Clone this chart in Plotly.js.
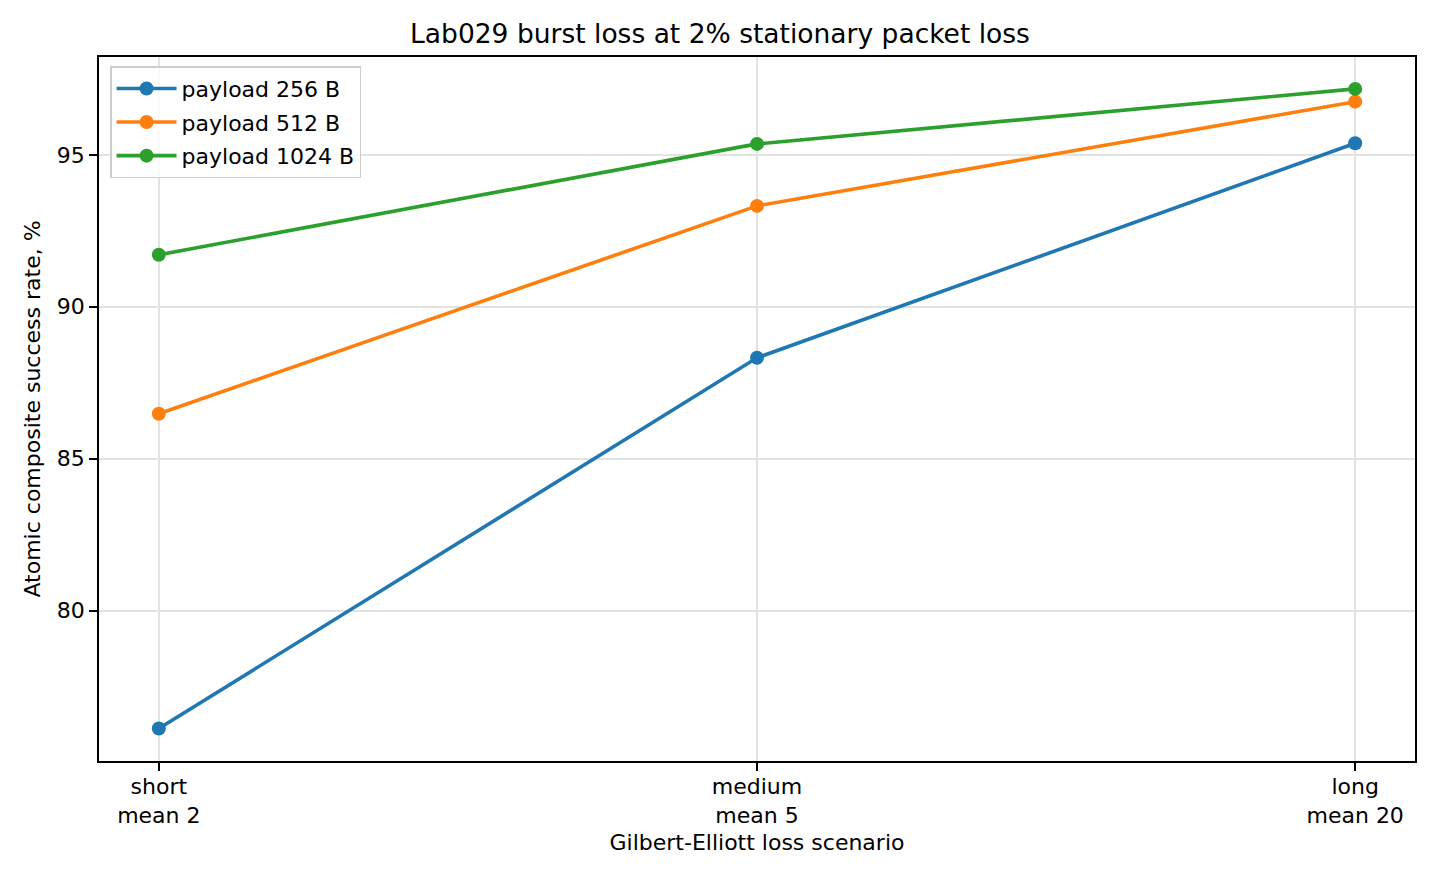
<!DOCTYPE html>
<html>
<head>
<meta charset="utf-8">
<script src="https://cdn.plot.ly/plotly-3.0.1.min.js"></script>
<style>
  html, body { margin: 0; padding: 0; background: #fff; }
  #chart { width: 1440px; height: 880px; }
</style>
</head>
<body>
<div id="chart"></div>
<script>
const SCENARIOS = ['short<br>mean 2', 'medium<br>mean 5', 'long<br>mean 20']
const SERIES_NAMES = ['payload 256 B', 'payload 512 B', 'payload 1024 B']
const SERIES_COLORS = ['#1f77b4', '#ff7f0e', '#2ca02c']
const payload256 = [76.12, 88.32, 95.38]
const payload512 = [86.48, 93.32, 96.75]
const payload1024 = [91.71, 95.36, 97.17]
const Y_TICKS = [80, 85, 90, 95]

const FONT = 'DejaVu Sans, sans-serif'

let data = [payload256, payload512, payload1024].map(function (values, i) {
  return {
    x: SCENARIOS,
    y: values,
    name: SERIES_NAMES[i],
    legendgroup: 'g' + i,
    type: 'scatter',
    mode: 'lines+markers',
    line: { color: SERIES_COLORS[i], width: 3.6 },
    marker: { color: SERIES_COLORS[i], size: 14 }
  }
})

let axisCommon = {
  showline: true,
  mirror: true,
  linecolor: '#000',
  linewidth: 1.8,
  ticks: 'outside',
  ticklen: 8,
  tickwidth: 1.8,
  tickcolor: '#000',
  showgrid: true,
  gridcolor: '#e3e3e3',
  gridwidth: 1.6,
  zeroline: false,
  tickfont: { family: FONT, size: 22, color: '#000' }
}

let layout = {
  width: 1440,
  height: 880,
  paper_bgcolor: '#fff',
  plot_bgcolor: '#fff',
  font: { family: FONT, color: '#000' },
  title: {
    text: 'Lab029 burst loss at 2% stationary packet loss',
    font: { family: FONT, size: 26.5, color: '#000' },
    x: 0.5,
    xanchor: 'center',
    y: 0.962,
    yanchor: 'middle'
  },
  margin: { l: 99, r: 25, t: 57, b: 119 },
  showlegend: true,
  legend: {
    x: 0.0084,
    y: 0.987,
    xanchor: 'left',
    yanchor: 'top',
    bgcolor: 'rgba(255,255,255,0.8)',
    bordercolor: '#cccccc',
    borderwidth: 1.5,
    font: { family: FONT, size: 22, color: '#000' },
    itemwidth: 60,
    tracegroupgap: 2
  },
  xaxis: Object.assign({}, axisCommon, {
    type: 'category',
    range: [-0.1, 2.1],
    ticklabelstandoff: -3,
    title: {
      text: 'Gilbert-Elliott loss scenario',
      font: { family: FONT, size: 22, color: '#000' },
      standoff: 8
    }
  }),
  yaxis: Object.assign({}, axisCommon, {
    range: [75.05, 98.22],
    tickvals: Y_TICKS,
    title: {
      text: 'Atomic composite success rate, %',
      font: { family: FONT, size: 22, color: '#000' },
      standoff: 10
    }
  })
}

let config = { displayModeBar: false, responsive: false }

Plotly.newPlot('chart', data, layout, config)
</script>
</body>
</html>
